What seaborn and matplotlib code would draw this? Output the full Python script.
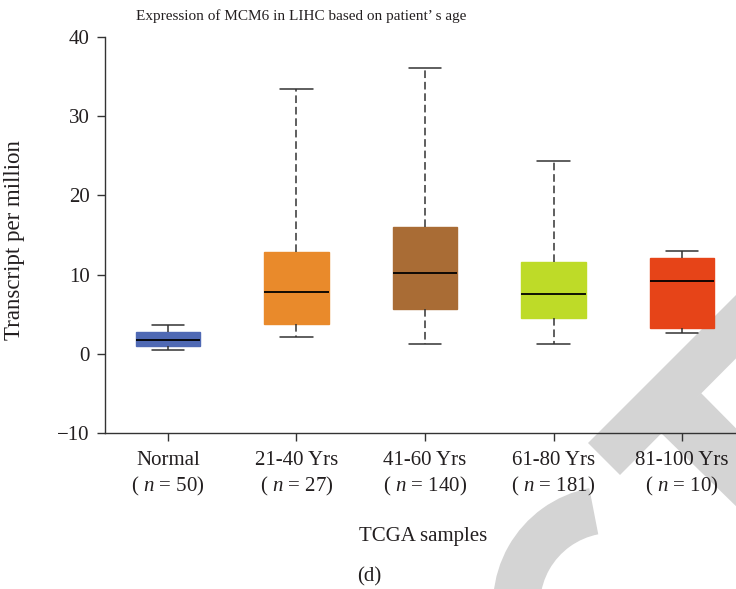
import numpy as np
import pandas as pd
import matplotlib
matplotlib.use('Agg')
import matplotlib.pyplot as plt
import matplotlib.transforms as mtransforms
from matplotlib.patches import Polygon, Wedge
import seaborn as sns

# five-number summaries (TPM)
groups = ['Normal', '21-40 Yrs', '41-60 Yrs', '61-80 Yrs', '81-100 Yrs']
n_counts = [50, 27, 140, 181, 10]
whisker_low = [0.52, 2.16, 1.3, 1.24, 2.66]
q1 = [1.02, 3.8, 5.7, 4.56, 3.3]
median = [1.78, 7.8, 10.16, 7.5, 9.23]
q3 = [2.75, 12.85, 16.0, 11.6, 12.1]
whisker_high = [3.67, 33.4, 36.1, 24.4, 12.98]
colors = ['#4F69B4', '#E98A2B', '#A96C35', '#BEDB28', '#E64418']

rows = []
for i, g in enumerate(groups):
    for v in [whisker_low[i], q1[i], median[i], q3[i], whisker_high[i]]:
        rows.append({'group': g, 'tpm': v})
df = pd.DataFrame(rows)

sns.set_style('ticks')
plt.rcParams['font.family'] = ['Liberation Serif', 'DejaVu Serif']
plt.rcParams['mathtext.fontset'] = 'custom'
plt.rcParams['mathtext.rm'] = 'Liberation Serif'
plt.rcParams['mathtext.it'] = 'Liberation Serif:italic'

W, H = 736, 589
fig = plt.figure(figsize=(W / 100, H / 100), dpi=100)
ax = fig.add_axes([105 / W, 1 - 433 / H, 1 - 105 / W, (433 - 37) / H])
ax.patch.set_alpha(0)

sns.boxplot(data=df, x='group', y='tpm', hue='group', palette=colors,
            order=groups, width=0.5, whis=(0, 100), saturation=1,
            legend=False, ax=ax,
            medianprops=dict(color='black', linewidth=1.3),
            whiskerprops=dict(color='#333333', linewidth=1.1, linestyle=(0, (5, 2.5))),
            capprops=dict(color='#333333', linewidth=1.1))
for p in ax.patches:
    p.set_edgecolor(p.get_facecolor())

ax.set_ylim(-10, 40)
ax.set_yticks([-10, 0, 10, 20, 30, 40])
ax.set_xlim(-0.49, 4.42)
ax.set_xticks(range(len(groups)))
ax.set_xticklabels([f'{g}\n( $n$ = {n})' for g, n in zip(groups, n_counts)],
                   linespacing=1.3)
ax.set_xlabel('')
ax.set_ylabel('')
sns.despine(ax=ax)
for s in ['left', 'bottom']:
    ax.spines[s].set_color('#333333')
    ax.spines[s].set_linewidth(1.0)
ax.tick_params(axis='both', length=6, width=1.0, color='#333333',
               labelsize=15, labelcolor='#231F20')
ax.tick_params(axis='y', pad=5)
ax.tick_params(axis='x', pad=7)

fig.text(301 / W, 1 - 16 / H, 'Expression of MCM6 in LIHC based on patient\u2019 s age',
         ha='center', va='center', fontsize=11, color='#231F20')
fig.text(15 / W, 1 - 240 / H, 'Transcript per million', rotation=90,
         ha='center', va='center', fontsize=16.5, color='#231F20')
fig.text(423 / W, 1 - 537 / H, 'TCGA samples', ha='center', va='center',
         fontsize=15, color='#231F20')
fig.text(369 / W, 1 - 577 / H, '(d)', ha='center', va='center',
         fontsize=15, color='#231F20')

# light grey publisher watermark, pixel coords (y measured from top)
px = mtransforms.Affine2D().scale(1, -1).translate(0, H)
wm = '#D4D4D4'
fig.add_artist(Polygon([(588, 443), (620, 475), (820, 274), (788, 243)],
                       closed=True, facecolor=wm, edgecolor='none',
                       transform=px, zorder=-1))
fig.add_artist(Polygon([(660, 432), (701, 393), (900, 594), (826, 594)],
                       closed=True, facecolor=wm, edgecolor='none',
                       transform=px, zorder=-1))
fig.add_artist(Wedge((612, 605), 119, 160, 259, width=47, facecolor=wm,
                     edgecolor='none', transform=px, zorder=-1))

fig.savefig('out.png', dpi=100)
